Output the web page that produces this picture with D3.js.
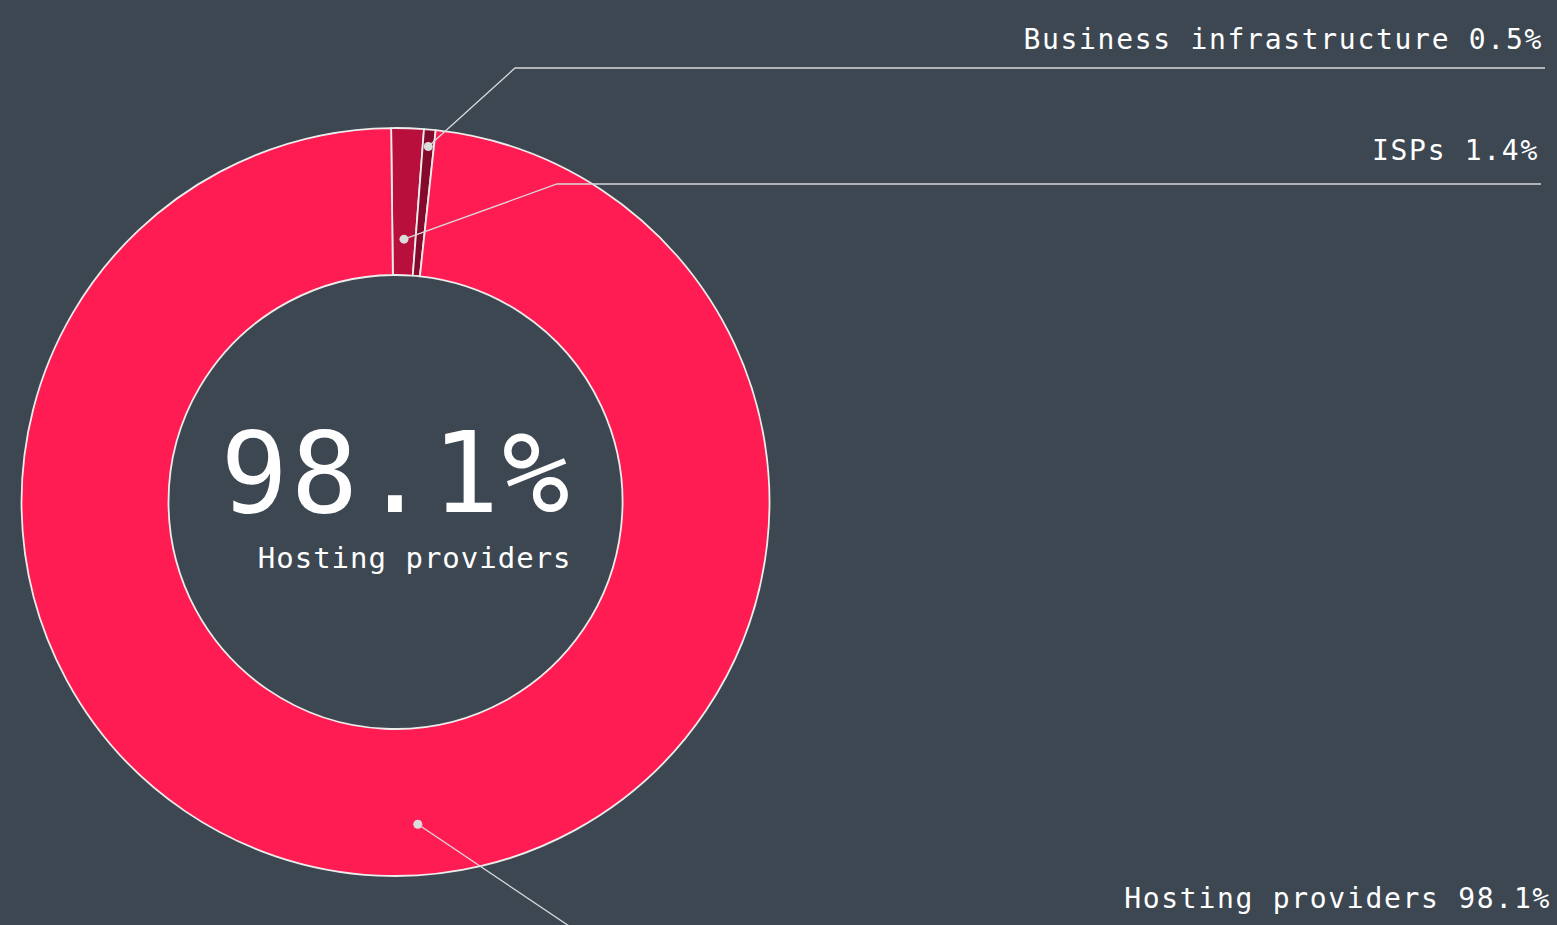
<!DOCTYPE html>
<html>
<head>
<meta charset="utf-8">
<script src="https://cdn.jsdelivr.net/npm/d3@7"></script>
<style>
  html, body { margin: 0; padding: 0; background: #3d4751; }
  svg { display: block; }
  text { font-family: "DejaVu Sans Mono", "Liberation Mono", monospace; fill: #ffffff; }
</style>
</head>
<body>
<svg id="chart" width="1557" height="925"></svg>
<script>
// Share of traffic by network type
const categories = ["ISPs", "Business infrastructure", "Hosting providers"];
const values = [1.4, 0.5, 98.1];
const colors = ["#b80f3d", "#85092b", "#ff1c52"];

// Headline figure shown in the hole of the donut
const headlineIndex = 2;

// Leader-line layout per slice: anchor radius, position inside the slice (0..1),
// elbow x, horizontal line y, and the right end of the line / label
const leaderLayout = [
  { r: 263, t: 0.5,   elbowX: 557, lineY: 184, endX: 1541, labelY: 160 },
  { r: 357, t: 0.5,   elbowX: 515, lineY: 68,  endX: 1545, labelY: 49 },
  { r: 323, t: 0.481, elbowX: 575, lineY: 930, endX: 1553, labelY: 908 }
];

const width = 1557, height = 925;
const cx = 395.5, cy = 502;
const outerR = 374, innerR = 227;
const startAngle = -0.67 * Math.PI / 180;

const svg = d3.select("#chart");
svg.append("rect").attr("width", width).attr("height", height).attr("fill", "#3d4751");

const data = categories.map((c, i) => ({ name: c, value: values[i], color: colors[i], layout: leaderLayout[i] }));

const pie = d3.pie().sort(null).value(d => d.value)
  .startAngle(startAngle).endAngle(startAngle + 2 * Math.PI);
const arcs = pie(data);

const arc = d3.arc().innerRadius(innerR).outerRadius(outerR);

const g = svg.append("g").attr("transform", `translate(${cx},${cy})`);

g.selectAll("path.slice")
  .data(arcs)
  .join("path")
  .attr("class", "slice")
  .attr("d", arc)
  .attr("fill", d => d.data.color)
  .attr("stroke", "#ececec")
  .attr("stroke-width", 1.8)
  .attr("stroke-linejoin", "round");

// Leader lines and labels
const fmt = v => v.toFixed(1) + "%";
arcs.forEach(d => {
  const L = d.data.layout;
  const a = d.startAngle + (d.endAngle - d.startAngle) * L.t;
  const px = cx + L.r * Math.sin(a);
  const py = cy - L.r * Math.cos(a);

  svg.append("polyline")
    .attr("points", [[px, py], [L.elbowX, L.lineY], [L.endX, L.lineY]].map(p => p.join(",")).join(" "))
    .attr("fill", "none")
    .attr("stroke", "#d8dadc")
    .attr("stroke-width", 1.3);

  svg.append("circle")
    .attr("cx", px).attr("cy", py).attr("r", 4.5)
    .attr("fill", "#dcdcdc");

  svg.append("text")
    .attr("x", L.endX - 2)
    .attr("y", L.labelY)
    .attr("text-anchor", "end")
    .attr("font-size", 28)
    .attr("letter-spacing", 1.7)
    .text(`${d.data.name} ${fmt(d.data.value)}`);
});

// Centre headline
const big = svg.append("text")
  .attr("x", cx + 1)
  .attr("y", 512)
  .attr("text-anchor", "middle")
  .attr("font-size", 112)
  .attr("letter-spacing", 3)
  .text(fmt(values[headlineIndex]));

const bigBox = big.node().getBBox();
svg.append("text")
  .attr("x", bigBox.x + bigBox.width - 1)
  .attr("y", 568)
  .attr("text-anchor", "end")
  .attr("font-size", 29)
  .attr("letter-spacing", 1.0)
  .text(categories[headlineIndex]);
</script>
</body>
</html>
